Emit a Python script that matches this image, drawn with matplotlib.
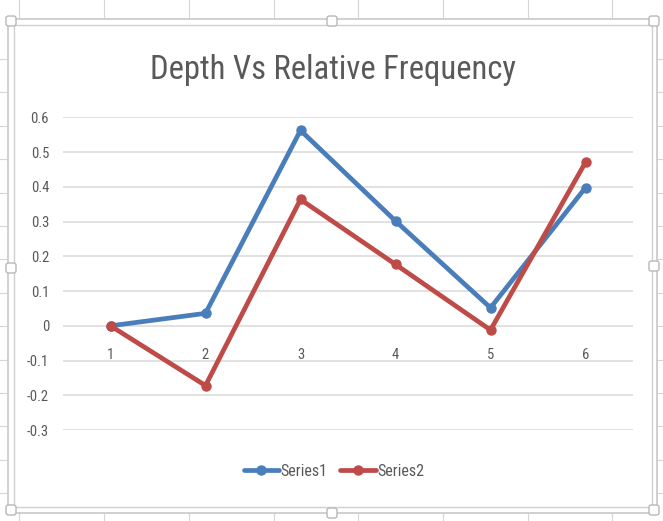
import matplotlib
matplotlib.use('Agg')
import matplotlib.pyplot as plt
from matplotlib import font_manager
from matplotlib.lines import Line2D
from matplotlib.patches import FancyBboxPatch

# data
categories = [1, 2, 3, 4, 5, 6]
series1 = [0.0, 0.036, 0.563, 0.302, 0.052, 0.398]
series2 = [0.0, -0.172, 0.364, 0.177, -0.012, 0.471]
y_ticks = [-0.3, -0.2, -0.1, 0, 0.1, 0.2, 0.3, 0.4, 0.5, 0.6]
y_labels = ['-0.3', '-0.2', '-0.1', '0', '0.1', '0.2', '0.3', '0.4', '0.5', '0.6']
title = 'Depth Vs Relative Frequency'

W, H = 663, 521


# narrowest font we can find (Calibri look-alike)
def pick_font(names):
    for n in names:
        try:
            font_manager.findfont(n, fallback_to_default=False)
            return n
        except Exception:
            pass
    return 'DejaVu Sans'


font = pick_font(['Liberation Sans Narrow', 'Roboto Condensed', 'Open Sans Condensed',
                  'Lato', 'Roboto', 'Noto Sans'])
plt.rcParams['font.family'] = [font, 'DejaVu Sans']

fig = plt.figure(figsize=(W / 100, H / 100), dpi=100)
fig.patch.set_facecolor('white')


def fx(x):
    return x / W


def fy(y):
    return 1 - y / H


# spreadsheet grid behind the chart
sheet_col = '#d6d6d6'
for x in [19, 104, 189, 274, 358, 443, 528, 612]:
    fig.add_artist(Line2D([fx(x), fx(x)], [0, 1], color=sheet_col, lw=0.8, zorder=0))
for i in range(15):
    y = 59 + 33.4 * i
    fig.add_artist(Line2D([0, 1], [fy(y), fy(y)], color=sheet_col, lw=0.8, zorder=0))

# white chart area with the selection frame
fig.add_artist(plt.Rectangle((fx(8), fy(513)), fx(657) - fx(8), fy(19) - fy(513),
                             facecolor='white', edgecolor='#c8c8c8', lw=1.2, zorder=1))
fig.add_artist(plt.Rectangle((fx(13.5), fy(507)), fx(652) - fx(13.5), fy(25) - fy(507),
                             facecolor='white', edgecolor='#d0d0d0', lw=1.0, zorder=1))
for cx, cy in [(11, 21), (332, 21), (654, 21), (11, 268), (654, 266),
               (11, 510), (332, 513), (654, 510)]:
    fig.add_artist(FancyBboxPatch((fx(cx - 5), fy(cy + 5)), fx(10), 10 / H,
                                  boxstyle='round,pad=0,rounding_size=0.004',
                                  facecolor='white', edgecolor='#b8b8b8', lw=1.0, zorder=2))

ax = fig.add_axes([fx(63), fy(430), fx(633) - fx(63), fy(117.5) - fy(430)], zorder=3)
ax.patch.set_alpha(0)

ax.plot(categories, series1, color='#4a7ebb', lw=3.4, marker='o', ms=6.5,
        solid_capstyle='round', label='Series1', zorder=4)
ax.plot(categories, series2, color='#be4b48', lw=3.4, marker='o', ms=6.5,
        solid_capstyle='round', label='Series2', zorder=5)

ax.set_xlim(0.5, 6.5)
ax.set_ylim(-0.3, 0.6)
ax.set_yticks(y_ticks)
ax.set_yticklabels(y_labels)
ax.set_xticks(categories)
ax.set_xticklabels([str(c) for c in categories])
ax.grid(axis='y', color='#d9d9d9', lw=1.1)
ax.set_axisbelow(True)
for s in ['top', 'right', 'left']:
    ax.spines[s].set_visible(False)
ax.spines['bottom'].set_position(('data', 0))
ax.spines['bottom'].set_visible(False)
ax.tick_params(axis='y', length=0, pad=10, labelsize=10.5, labelcolor='#595959')
ax.tick_params(axis='x', length=0, pad=16, labelsize=10.5, labelcolor='#595959')

# title sized so it spans about 367 px like the reference
t = fig.text(fx(333), fy(70), title, ha='center', va='center',
             fontsize=24, color='#595959', zorder=3)
r = fig.canvas.get_renderer()
w = t.get_window_extent(r).width
t.set_fontsize(24 * 367 / w)

fig.legend(loc='center', bbox_to_anchor=(fx(334), fy(471)), ncol=2, frameon=False,
           fontsize=11.5, handlelength=2.2, handletextpad=0.1, columnspacing=0.8,
           labelcolor='#595959')

fig.savefig('out.png', dpi=100)
